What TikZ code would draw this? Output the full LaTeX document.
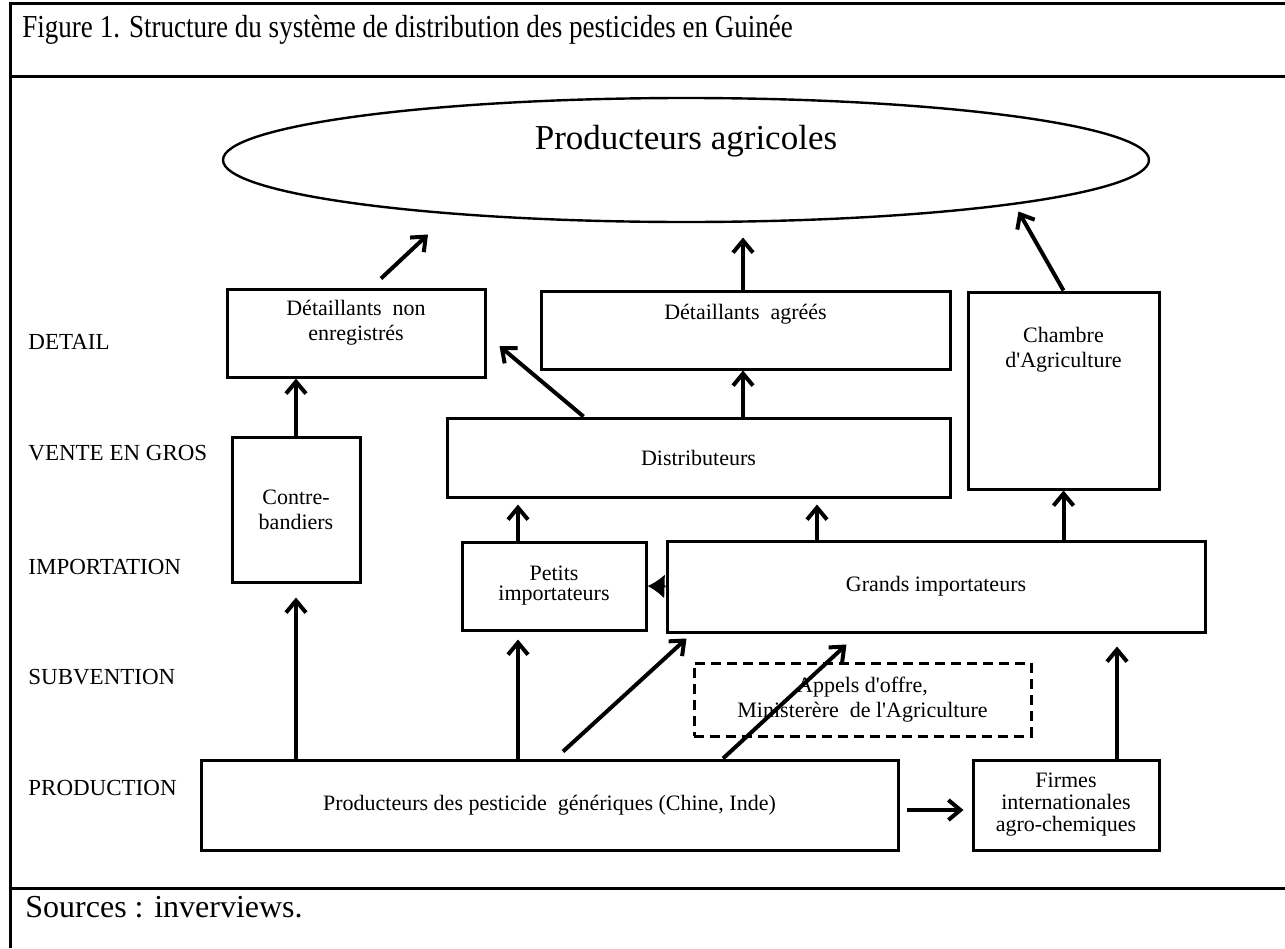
\documentclass[tikz,border=0pt]{standalone}
\usepackage{fontspec}
\newfontfamily\tnr{Liberation Serif}
\usetikzlibrary{calc,positioning,shapes.geometric,arrows.meta}

\begin{document}
\begin{tikzpicture}[x=0.5pt,y=-0.5pt,inner sep=0pt,>={Straight Barb[length=6pt,width=10pt]},
  box/.style={draw,line width=1.5pt,align=center,font=\tnr\fontsize{11}{12.5}\selectfont},
  lbl/.style={align=center,font=\tnr\fontsize{11}{12.5}\selectfont},
  lvl/.style={anchor=west,font=\tnr\fontsize{11.5}{13}\selectfont},
  flow/.style={->,line width=2pt}]
\useasboundingbox (0,0) rectangle (1285,948);
\draw[line width=1.5pt] (1285,3) -- (10,3) -- (10,948);
\draw[line width=1.5pt] (10,76) -- (1285,76) (10,888) -- (1285,888);
\node[anchor=west,font=\tnr\fontsize{16}{18}\selectfont] (titre) at (22,30) {\scalebox{0.845}[1]{Figure 1. Structure du système de distribution des pesticides en Guinée}};
\node[anchor=west,font=\tnr\fontsize{16}{18}\selectfont] (sources) at (25,907) {Sources : inverviews.};

\node[lvl] (niv-detail) at (28,342) {DETAIL};
\node[lvl] (niv-gros)   at (28,453) {VENTE EN GROS};
\node[lvl] (niv-import) at (28,567) {IMPORTATION};
\node[lvl] (niv-subv)   at (28,677) {SUBVENTION};
\node[lvl] (niv-prod)   at (28,788) {PRODUCTION};

\node[ellipse,draw,line width=1.2pt,minimum width=463pt,minimum height=62pt,font=\tnr\fontsize{17.5}{20}\selectfont] (agri) at (686,160) {\raisebox{23pt}{Producteurs agricoles}};

\node[box,minimum width=129pt,minimum height=44pt] (detnon) at (356,333) {};
\node[lbl,below=6pt of detnon.north] (detnon-txt) {Détaillants\ \ non\\enregistrés};
\node[box,minimum width=204.5pt,minimum height=39pt] (detagr) at (745.5,330) {};
\node[lbl,below=7pt of detagr.north] (detagr-txt) {Détaillants\ \ agréés};
\node[box,minimum width=95.5pt,minimum height=98.5pt] (chambre) at (1063.5,390.5) {};
\node[lbl,below=18pt of chambre.north] (chambre-txt) {Chambre\\d'Agriculture};
\node[box,minimum width=251.5pt,minimum height=39.5pt] (distrib) at (698.5,457.5) {Distributeurs};
\node[box,minimum width=64pt,minimum height=72.5pt] (contre) at (296,509.5) {Contre-\\bandiers};
\node[box,minimum width=92pt,minimum height=44pt] (petits) at (554,586) {Petits\\[-2.5pt]importateurs};
\node[box,minimum width=269pt,minimum height=45.5pt] (grands) at (936,586.5) {Grands importateurs};
\node[box,dash pattern=on 5pt off 3pt,minimum width=168.5pt,minimum height=36.5pt] (appels) at (862.5,699.5) {Appels d'offre,\\Ministerère\ \ de l'Agriculture};
\node[box,minimum width=348.5pt,minimum height=45pt] (prod) at (549.5,805) {Producteurs des pesticide\ \ génériques (Chine, Inde)};
\node[box,minimum width=93pt,minimum height=45pt] (firmes) at (1066,805) {Firmes\\[-1.5pt]internationales\\[-1.5pt]agro-chemiques};

\draw[flow,shorten >=7pt] (contre.south |- prod.north) -- (contre.south);
\draw[flow] (contre.north) -- (contre.north |- detnon.south);
\draw[flow] ($(detnon.north)+(25,-9)$) -- ($(detnon.north)+(72,-53)$);
\draw[flow] ($(distrib.north west)+(138,0)$) -- ($(detnon.east)+(13,13)$);
\draw[flow] ($(distrib.north)+(44.5,0)$) -- ($(detagr.south)+(-2.5,0)$);
\draw[flow] ($(detagr.north)+(-2.5,0)$) -- ($(detagr.north)+(-2.5,-52)$);
\draw[flow] (chambre.north) -- ($(chambre.north)+(-45,-79)$);
\draw[flow] ($(petits.north)+(-36,0)$) -- ($(distrib.south)+(-180.5,6)$);
\draw[flow] ($(grands.north)+(-119,0)$) -- ($(distrib.south)+(118.5,6)$);
\draw[flow] (chambre.south |- grands.north) -- (chambre.south);
\draw[flow] ($(prod.north)+(-31.5,0)$) -- ($(petits.south)+(-36,8)$);
\draw[flow] ($(prod.north)+(13.5,-7)$) -- ($(grands.south west)+(21,5)$);
\draw[flow] ($(prod.north)+(173.5,0)$) -- ($(grands.south west)+(181,11)$);
\draw[flow] ($(firmes.north)+(51,0)$) -- ($(grands.south)+(181,13)$);
\draw[flow] ($(prod.east)+(7,5)$) -- ($(firmes.west)+(-8,5)$);
\draw[-{Latex[length=8.5pt,width=12pt]},line width=1pt] (grands.west) -- (petits.east);
\end{tikzpicture}
\end{document}
